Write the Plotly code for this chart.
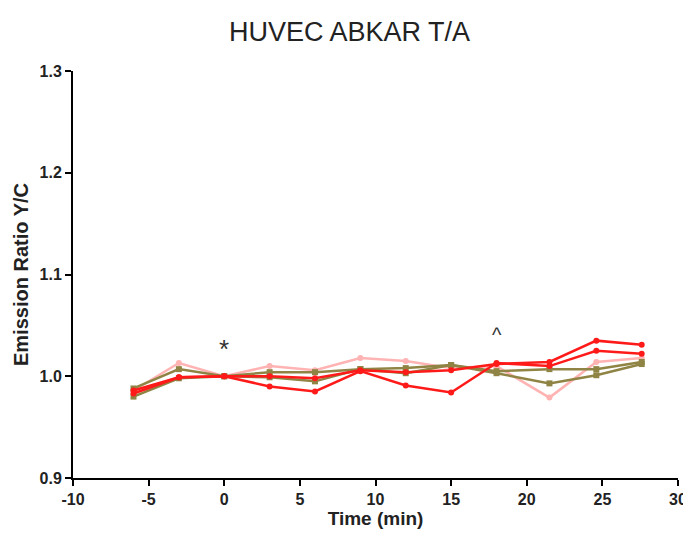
import plotly.graph_objects as go

time = [-6, -3, 0, 3, 6, 9, 12, 15, 18, 21.5, 24.6, 27.6]
red1 = [0.983, 0.999, 1.000, 0.990, 0.985, 1.005, 0.991, 0.984, 1.013, 1.010, 1.025, 1.022]
red2 = [0.986, 0.999, 1.000, 1.000, 0.998, 1.006, 1.004, 1.006, 1.012, 1.014, 1.035, 1.031]
pink = [0.986, 1.013, 1.000, 1.010, 1.006, 1.018, 1.015, 1.008, 1.010, 0.979, 1.014, 1.018]
olive1 = [0.988, 1.007, 1.000, 1.004, 1.004, 1.007, 1.008, 1.011, 1.005, 1.007, 1.007, 1.014]
olive2 = [0.980, 0.998, 1.000, 0.999, 0.995, 1.007, 1.003, 1.011, 1.003, 0.993, 1.001, 1.012]

x_ticks = [-10, -5, 0, 5, 10, 15, 20, 25, 30]
x_tick_labels = ["-10", "-5", "0", "5", "10", "15", "20", "25", "30"]
y_ticks = [0.9, 1.0, 1.1, 1.2, 1.3]
y_tick_labels = ["0.9", "1.0", "1.1", "1.2", "1.3"]

series = [
    ("pink", pink, "#ffb3b3", "circle"),
    ("olive1", olive1, "#8f8444", "square"),
    ("olive2", olive2, "#8f8444", "square"),
    ("red1", red1, "#ff1a1a", "circle"),
    ("red2", red2, "#ff1a1a", "circle"),
]

fig = go.Figure()
for name, vals, col, sym in series:
    fig.add_trace(go.Scatter(x=time, y=vals, mode="lines+markers", name=name,
                             line=dict(color=col, width=2.5),
                             marker=dict(color=col, size=6, symbol=sym)))

fig.add_annotation(x=0, y=1.027, text="*", showarrow=False,
                   font=dict(size=26, color="#333333", family="Liberation Sans"))
fig.add_annotation(x=18, y=1.041, text="^", showarrow=False,
                   font=dict(size=20, color="#333333", family="Liberation Sans"))

tick_font = dict(family="Liberation Sans", size=16, color="#222222", weight="bold")
axis_common = dict(showgrid=False, zeroline=False, showline=True, linecolor="black",
                   linewidth=2, ticks="outside", tickwidth=2, ticklen=6, tickcolor="black",
                   tickfont=tick_font, ticklabeloverflow="allow", automargin=False)

fig.update_layout(
    width=683, height=526,
    margin=dict(l=65, r=13, t=63, b=56, autoexpand=False),
    paper_bgcolor="white", plot_bgcolor="white",
    showlegend=False,
    title=dict(text="HUVEC ABKAR T/A", x=0.5, xanchor="center", y=0.955, yanchor="middle",
               font=dict(family="Liberation Sans", size=27, color="#222222")),
    xaxis=dict(range=[-10, 30], tickvals=x_ticks, ticktext=x_tick_labels,
               title=dict(text="Time (min)", standoff=4,
                          font=dict(family="Liberation Sans", size=19, color="#222222", weight="bold")),
               **axis_common),
    yaxis=dict(range=[0.9, 1.3], tickvals=y_ticks, ticktext=y_tick_labels,
               title=dict(text="Emission Ratio Y/C", standoff=6,
                          font=dict(family="Liberation Sans", size=20, color="#222222", weight="bold")),
               **axis_common),
)

fig.write_html("out.html")
